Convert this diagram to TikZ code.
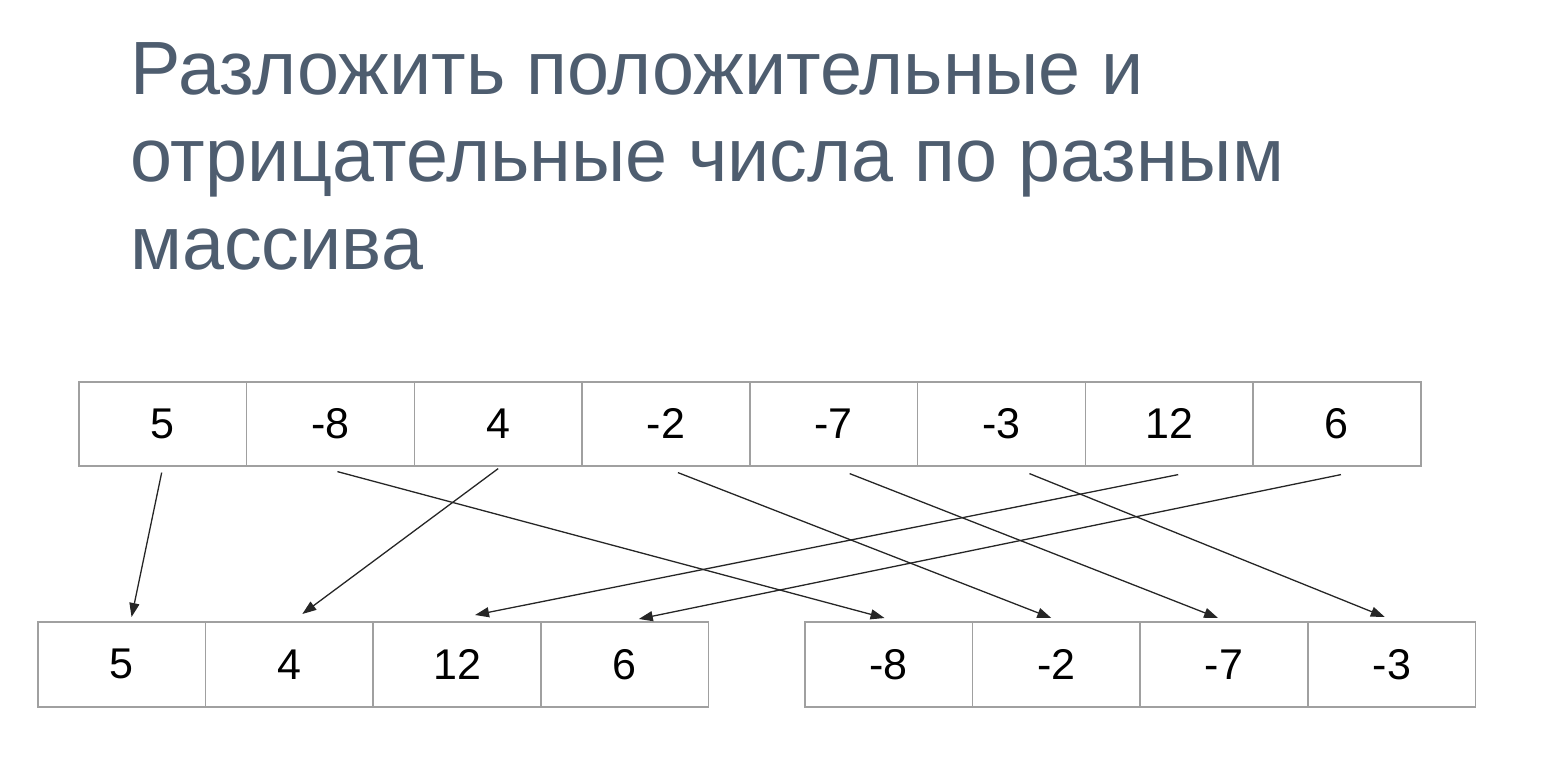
\documentclass[tikz,border=0pt]{standalone}
\usepackage{fontspec}
\setmainfont{Liberation Sans}
\usetikzlibrary{arrows.meta}
\definecolor{titlecol}{HTML}{4E5D6F}
\definecolor{cellborder}{HTML}{A0A0A0}
\definecolor{arrcol}{HTML}{262626}
\begin{document}
\begin{tikzpicture}[x=1pt,y=-1pt,
  titletext/.style={anchor=base west,inner sep=0,text=titlecol,font=\fontsize{75.5}{88}\selectfont},
  cell/.style={draw=cellborder,line width=1.6pt,minimum width=167.75pt,minimum height=84pt,inner sep=0,anchor=north west,font=\fontsize{43}{50}\selectfont},
  bcell/.style={cell,minimum width=167.5pt,minimum height=85pt},
  arr/.style={draw=arrcol,line width=1.3pt,-{Triangle[length=14pt,width=10pt]}}]
\useasboundingbox (0,0) rectangle (1544,758);
\node[titletext] (ti1) at (130,94) {Разложить положительные и};
\node[titletext] (ti2) at (130,181) {отрицательные числа по разным};
\node[titletext] (ti3) at (130,269) {массива};
% top row
\foreach \v [count=\i from 0] in {5,-8,4,-2,-7,-3,12,6}{
  \node[cell] (t\i) at (78+\i*167.75,381) {\v};
}
% bottom left
\foreach \v [count=\i from 0] in {5,4,12,6}{
  \node[bcell] (p\i) at (37+\i*167.75,621) {\v};
}
% bottom right
\foreach \v [count=\i from 0] in {-8,-2,-7,-3}{
  \node[bcell] (n\i) at (804+\i*167.75,621) {\v};
}
% arrows
\draw[arr] ([xshift=-1pt,yshift=-6pt]t0.south) -- ([xshift=10pt,yshift=4pt]p0.north);
\draw[arr] ([xshift=7pt,yshift=-5pt]t1.south) -- ([xshift=-4pt,yshift=3pt]n0.north);
\draw[arr] ([xshift=0pt,yshift=-2pt]t2.south) -- ([xshift=13pt,yshift=7pt]p1.north);
\draw[arr] ([xshift=12pt,yshift=-6pt]t3.south) -- ([xshift=-5pt,yshift=3pt]n1.north);
\draw[arr] ([xshift=16pt,yshift=-7pt]t4.south) -- ([xshift=-6pt,yshift=3pt]n2.north);
\draw[arr] ([xshift=28pt,yshift=-7pt]t5.south) -- ([xshift=-7pt,yshift=4pt]n3.north);
\draw[arr] ([xshift=9pt,yshift=-8pt]t6.south) -- ([xshift=18pt,yshift=6pt]p2.north);
\draw[arr] ([xshift=4pt,yshift=-8pt]t7.south) -- ([xshift=14pt,yshift=2pt]p3.north);
\end{tikzpicture}
\end{document}
